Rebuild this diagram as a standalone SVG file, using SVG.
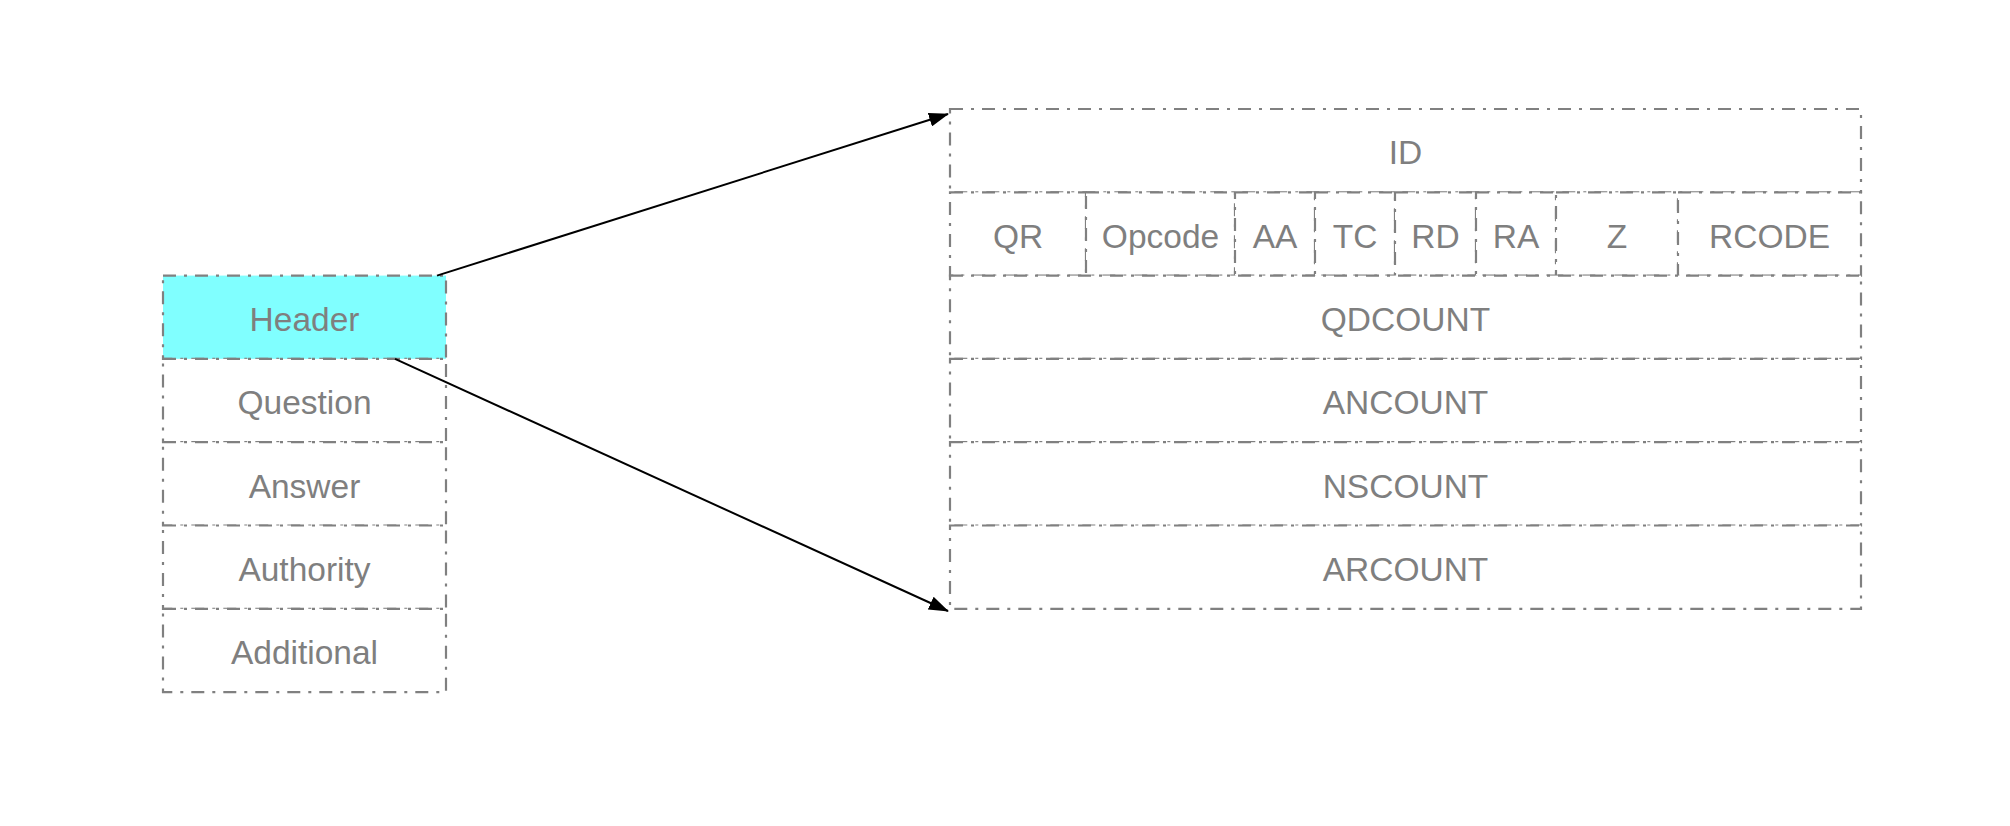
<svg xmlns="http://www.w3.org/2000/svg" width="2010" height="826" viewBox="0 0 2010 826">
  <style>
    .cell { fill: #ffffff; stroke: #808080; stroke-width: 2.2; stroke-dasharray: 13 8 3 8; }
    .hl { fill: #80ffff; }
    .lbl { font-family: "Liberation Sans", Arial, sans-serif; font-size: 33.5px; fill: #7f7f7f; text-anchor: middle; }
    .conn { stroke: #000000; stroke-width: 2; fill: none; }
  </style>
  <defs>
    <marker id="arrow" viewBox="0 0 20 14" refX="19" refY="7" markerWidth="20" markerHeight="14" markerUnits="userSpaceOnUse" orient="auto">
      <path d="M0,0 L20,7 L0,14 Z" fill="#000000"/>
    </marker>
  </defs>
  <rect width="2010" height="826" fill="#ffffff"/>

  <!-- message sections -->
  <g id="section-header">
    <rect class="cell hl" x="163" y="275.6" width="283" height="83.3"/>
    <text class="lbl" x="304.5" y="331">Header</text>
  </g>
  <g id="section-question">
    <rect class="cell" x="163" y="358.9" width="283" height="83.3"/>
    <text class="lbl" x="304.5" y="414.3">Question</text>
  </g>
  <g id="section-answer">
    <rect class="cell" x="163" y="442.2" width="283" height="83.3"/>
    <text class="lbl" x="304.5" y="497.6">Answer</text>
  </g>
  <g id="section-authority">
    <rect class="cell" x="163" y="525.5" width="283" height="83.3"/>
    <text class="lbl" x="304.5" y="580.9">Authority</text>
  </g>
  <g id="section-additional">
    <rect class="cell" x="163" y="608.8" width="283" height="83.3"/>
    <text class="lbl" x="304.5" y="664.2">Additional</text>
  </g>

  <!-- header layout -->
  <g id="field-id">
    <rect class="cell" x="950" y="109" width="911" height="83.3"/>
    <text class="lbl" x="1405.5" y="164.4">ID</text>
  </g>
  <g id="field-qr">
    <rect class="cell" x="950" y="192.3" width="136" height="83.3"/>
    <text class="lbl" x="1018" y="247.7">QR</text>
  </g>
  <g id="field-opcode">
    <rect class="cell" x="1086" y="192.3" width="149" height="83.3"/>
    <text class="lbl" x="1160.5" y="247.7">Opcode</text>
  </g>
  <g id="field-aa">
    <rect class="cell" x="1235" y="192.3" width="80" height="83.3"/>
    <text class="lbl" x="1275" y="247.7">AA</text>
  </g>
  <g id="field-tc">
    <rect class="cell" x="1315" y="192.3" width="80" height="83.3"/>
    <text class="lbl" x="1355" y="247.7">TC</text>
  </g>
  <g id="field-rd">
    <rect class="cell" x="1395" y="192.3" width="81" height="83.3"/>
    <text class="lbl" x="1435.5" y="247.7">RD</text>
  </g>
  <g id="field-ra">
    <rect class="cell" x="1476" y="192.3" width="80" height="83.3"/>
    <text class="lbl" x="1516" y="247.7">RA</text>
  </g>
  <g id="field-z">
    <rect class="cell" x="1556" y="192.3" width="122" height="83.3"/>
    <text class="lbl" x="1617" y="247.7">Z</text>
  </g>
  <g id="field-rcode">
    <rect class="cell" x="1678" y="192.3" width="183" height="83.3"/>
    <text class="lbl" x="1769.5" y="247.7">RCODE</text>
  </g>
  <g id="field-qdcount">
    <rect class="cell" x="950" y="275.6" width="911" height="83.3"/>
    <text class="lbl" x="1405.5" y="331">QDCOUNT</text>
  </g>
  <g id="field-ancount">
    <rect class="cell" x="950" y="358.9" width="911" height="83.3"/>
    <text class="lbl" x="1405.5" y="414.3">ANCOUNT</text>
  </g>
  <g id="field-nscount">
    <rect class="cell" x="950" y="442.2" width="911" height="83.3"/>
    <text class="lbl" x="1405.5" y="497.6">NSCOUNT</text>
  </g>
  <g id="field-arcount">
    <rect class="cell" x="950" y="525.5" width="911" height="83.3"/>
    <text class="lbl" x="1405.5" y="580.9">ARCOUNT</text>
  </g>

  <!-- connectors -->
  <g id="connectors">
    <line class="conn" x1="437" y1="275.6" x2="948" y2="114" marker-end="url(#arrow)"/>
    <line class="conn" x1="395" y1="358.9" x2="948" y2="611" marker-end="url(#arrow)"/>
  </g>
</svg>
